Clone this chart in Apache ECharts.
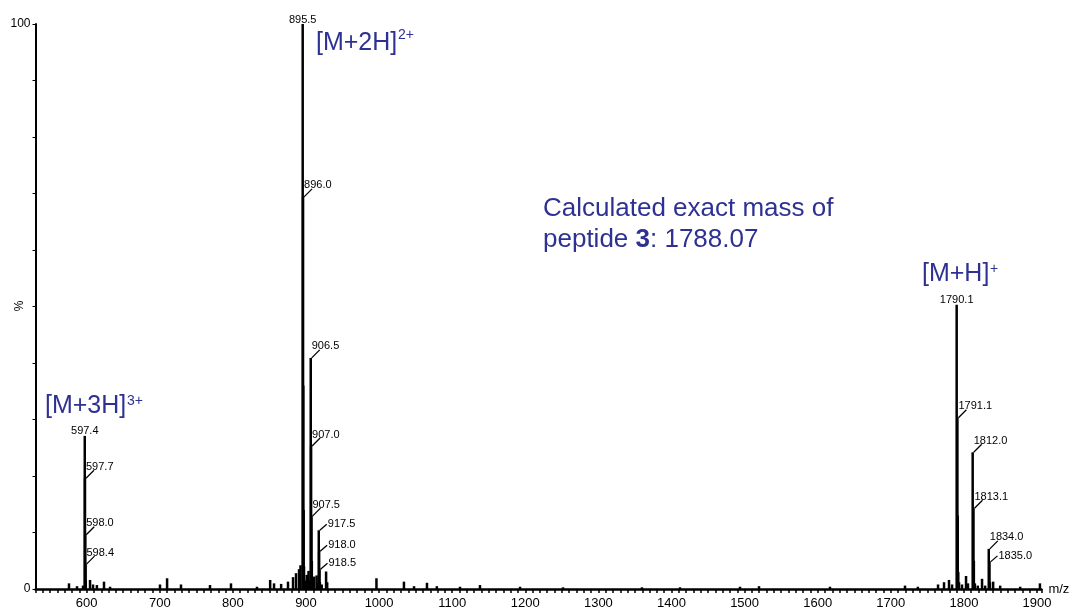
<!DOCTYPE html>
<html>
<head>
<meta charset="utf-8">
<script src="https://cdn.jsdelivr.net/npm/echarts@6/dist/echarts.min.js"></script>
<style>
  html, body { margin: 0; padding: 0; background: #fff; }
  #main { width: 1071px; height: 612px; }
</style>
</head>
<body>
<div id="main"></div>
<script>
// labelled peaks (m/z, relative intensity %)
const peakMz = [597.4, 597.7, 598.0, 598.4, 895.5, 896.0, 906.5, 907.0, 907.5, 917.5, 918.0, 918.5,
  1790.1, 1791.1, 1812.0, 1813.1, 1834.0, 1835.0];
const peakHeights = [27.1, 19.6, 9.6, 4.4, 100, 69.4, 40.9, 25.3, 12.9, 10.4, 6.7, 3.5,
  50.3, 30.3, 24.2, 14.3, 7.1, 4.8];

// unlabelled shoulders inside the clusters
const shoulderMz = [595.0, 598.8, 896.3, 896.8, 897.3, 899.0, 901.0, 903.5, 904.5, 908.0, 909.0, 911.0,
  914.5, 916.0, 919.0, 921.5, 927.5, 929.0, 1791.6, 1792.3, 1813.6, 1835.6];
const shoulderHeights = [0.6, 1.5, 36, 14, 4, 1.5, 2.5, 3.2, 1.5, 5, 1.5, 2.2,
  2.4, 1.0, 1.2, 0.8, 3.1, 1.2, 13, 3, 5, 1.2];

// baseline noise
const noiseMz = [575.8, 586.8, 604.6, 608.7, 614.0, 623.7, 632.0, 700.3, 710.0, 729.0, 768.7, 797.4,
  833.0, 851.0, 856.3, 866.0, 875.4, 882.3, 886.4, 890.5, 892.5, 996.4, 1034.0, 1047.8, 1065.5,
  1079.0, 1110.7, 1138.0, 1192.8, 1251.6, 1359.6, 1411.6, 1493.7, 1519.7, 1616.8, 1719.4, 1737.0,
  1764.6, 1772.8, 1779.6, 1783.8, 1793.3, 1797.4, 1802.9, 1805.6, 1815.0, 1819.0, 1824.8, 1829.0,
  1840.0, 1849.6, 1877.0, 1904.0];
const noiseHeights = [1.0, 0.5, 1.6, 0.8, 0.7, 1.3, 0.4, 0.8, 1.9, 0.8, 0.7, 1.0,
  0.4, 1.6, 1.0, 0.9, 1.3, 2.1, 2.8, 3.5, 4.2, 1.9, 1.3, 0.5, 1.1,
  0.5, 0.4, 0.7, 0.4, 0.3, 0.3, 0.3, 0.4, 0.5, 0.4, 0.6, 0.4,
  0.8, 1.2, 1.6, 0.8, 1.2, 0.8, 2.3, 1.0, 1.0, 0.6, 1.8, 0.6,
  1.3, 0.6, 0.4, 1.0];

// labels drawn straight above the peak / to the right of the leader
const topLabels = [597.4, 895.5, 1790.1];
const sideLabels = [917.5, 918.0, 918.5, 1835.0];

const FONT = '"Liberation Sans", Arial, sans-serif';
const BLUE = '#2e3192';

const chart = echarts.init(document.getElementById('main'));

const pairs = (xs, ys) => xs.map((x, i) => [x, ys[i]]);
const sticks = [].concat(pairs(noiseMz, noiseHeights), pairs(shoulderMz, shoulderHeights), pairs(peakMz, peakHeights));

function renderLabel(params, api) {
  const mz = api.value(0);
  const p = api.coord([mz, api.value(1)]);
  const ts = { text: mz.toFixed(1), fontSize: 11, fontFamily: FONT, fill: '#000' };
  if (topLabels.includes(mz)) {
    return { type: 'text', x: p[0], y: p[1] + 1, style: Object.assign({ align: 'center', verticalAlign: 'bottom' }, ts) };
  }
  const side = sideLabels.includes(mz);
  const x0 = p[0] + 1, y0 = p[1];
  const x1 = x0 + (side ? 7 : 8), y1 = y0 - (side ? 6 : 8);
  return {
    type: 'group',
    children: [
      { type: 'line', shape: { x1: x0, y1: y0, x2: x1, y2: y1 }, style: { stroke: '#000', lineWidth: 1.3 } },
      side
        ? { type: 'text', x: x1 + 1, y: y1, style: Object.assign({ align: 'left', verticalAlign: 'middle' }, ts) }
        : { type: 'text', x: x0, y: y1 + 2, style: Object.assign({ align: 'left', verticalAlign: 'bottom' }, ts) }
    ]
  };
}

const txt = (x, y, text, size, extra) => ({
  type: 'text', x: x, y: y, silent: true,
  style: Object.assign({ text: text, fontSize: size, fontFamily: FONT, fill: BLUE, verticalAlign: 'middle' }, extra || {})
});

const option = {
  animation: false,
  backgroundColor: '#fff',
  grid: { left: 35.5, right: 29.6, top: 24, bottom: 23, containLabel: false, outerBoundsMode: 'none' },
  xAxis: {
    type: 'value',
    min: 530,
    max: 1906,
    interval: 10,
    name: 'm/z',
    nameLocation: 'end',
    nameGap: 7,
    nameTextStyle: { color: '#000', fontSize: 13, fontFamily: FONT },
    splitLine: { show: false },
    axisLine: { lineStyle: { color: '#000', width: 2.5 } },
    axisTick: { length: 4, lineStyle: { color: '#000', width: 1.5 } },
    axisLabel: {
      color: '#000', fontSize: 13, fontFamily: FONT, margin: 8,
      formatter: v => (v % 100 === 0 ? String(v) : '')
    }
  },
  yAxis: {
    type: 'value',
    min: 0,
    max: 100,
    interval: 10,
    splitLine: { show: false },
    axisLine: { show: true, lineStyle: { color: '#000', width: 2 } },
    axisTick: { show: true, length: 3, lineStyle: { color: '#000', width: 1 } },
    axisLabel: {
      color: '#000', fontSize: 12, fontFamily: FONT, margin: 5,
      formatter: v => (v === 0 || v === 100 ? String(v) : '')
    }
  },
  series: [
    {
      type: 'bar',
      data: sticks,
      barWidth: 2.5,
      itemStyle: { color: '#000' },
      silent: true
    },
    {
      type: 'custom',
      data: pairs(peakMz, peakHeights),
      encode: { x: 0, y: 1 },
      renderItem: renderLabel,
      clip: false,
      silent: true,
      z: 10
    }
  ],
  graphic: [
    // y axis unit, rotated like the original
    {
      type: 'text', x: 20, y: 306, rotation: Math.PI / 2, silent: true,
      style: { text: '%', fontSize: 12, fontFamily: FONT, fill: '#000', align: 'center', verticalAlign: 'middle' }
    },
    txt(316, 43.5, '[M+2H]', 25),
    txt(398, 35, '2+', 14),
    txt(45, 406.5, '[M+3H]', 25),
    txt(127, 401, '3+', 14),
    txt(922, 274, '[M+H]', 25),
    txt(990, 269, '+', 14),
    txt(543, 209, 'Calculated exact mass of', 26),
    txt(543, 240, 'peptide {b|3}: 1788.07', 26, {
      rich: { b: { fontSize: 26, fontFamily: FONT, fontWeight: 'bold', fill: BLUE } }
    })
  ]
};

chart.setOption(option);
</script>
</body>
</html>
